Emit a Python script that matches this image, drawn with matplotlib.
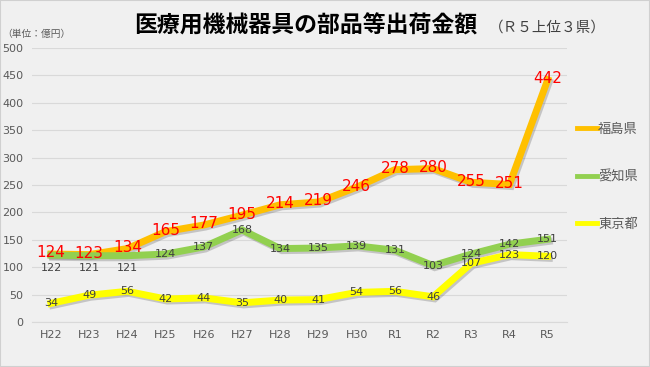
import matplotlib
matplotlib.use("Agg")
import matplotlib.pyplot as plt
import matplotlib.patheffects as pe

plt.rcParams['font.family'] = ['Noto Sans CJK JP', 'DejaVu Sans']

years = ["H22", "H23", "H24", "H25", "H26", "H27", "H28", "H29", "H30",
         "R1", "R2", "R3", "R4", "R5"]
fukushima = [124, 123, 134, 165, 177, 195, 214, 219, 246, 278, 280, 255, 251, 442]
aichi = [122, 121, 121, 124, 137, 168, 134, 135, 139, 131, 103, 124, 142, 151]
tokyo = [34, 49, 56, 42, 44, 35, 40, 41, 54, 56, 46, 107, 123, 120]
names = ["福島県", "愛知県", "東京都"]
colors = ["#ffc000", "#92d050", "#ffff00"]

bg = "#f0f0f0"
fig = plt.figure(figsize=(6.5, 3.67), dpi=100, facecolor=bg)
ax = fig.add_axes([0.049, 0.1226, 0.823, 0.7466], facecolor=bg)

x = list(range(len(years)))
shadow = [pe.SimpleLineShadow(offset=(1.2, -1.5), shadow_color="#606060", alpha=0.3), pe.Normal()]
for vals, c, n in zip([fukushima, aichi, tokyo], colors, names):
    ax.plot(x, vals, color=c, lw=5, solid_joinstyle="miter", label=n,
            path_effects=shadow, zorder=3)

for i, v in enumerate(fukushima):
    ax.text(i, v + 2, str(v), color="red", fontsize=11, ha="center", va="center",
            family=["DejaVu Sans"], zorder=5)
for i, v in enumerate(aichi):
    # labels pushed under the line where the two series overlap
    y = v - 23 if abs(fukushima[i] - v) < 15 else v
    ax.text(i, y, str(v), color="#404040", fontsize=8, ha="center", va="center",
            family=["DejaVu Sans"], zorder=5)
for i, v in enumerate(tokyo):
    ax.text(i, v, str(v), color="#404040", fontsize=8, ha="center", va="center",
            family=["DejaVu Sans"], zorder=5)

ax.set_xlim(-0.5, len(years) - 0.5)
ax.set_ylim(0, 500)
ax.set_yticks(range(0, 501, 50))
ax.set_xticks(x)
ax.set_xticklabels(years)
ax.tick_params(axis="both", length=0, colors="#595959", labelsize=8, pad=6)
for lab in ax.get_xticklabels() + ax.get_yticklabels():
    lab.set_family(["DejaVu Sans"])
ax.grid(axis="y", color="#d9d9d9", lw=0.8)
ax.set_axisbelow(True)
for s in ["top", "right", "left"]:
    ax.spines[s].set_visible(False)
ax.spines["bottom"].set_color("#d9d9d9")

leg = ax.legend(loc="upper left", bbox_to_anchor=(0.997, 0.77), frameon=False,
                fontsize=9.5, handlelength=1.5, labelspacing=2.6, handletextpad=0.1,
                labelcolor="#595959")
for h in leg.get_lines():
    h.set_linewidth(3.5)
    h.set_path_effects([])

fig.text(0.003, 0.907, "（単位：億円）", fontsize=7, color="#595959", va="center")
fig.text(0.206, 0.928, "医療用機械器具の部品等出荷金額", fontsize=16.5, fontweight="bold",
         va="center", color="black")
fig.text(0.752, 0.926, "（Ｒ５上位３県）", fontsize=10.5, va="center", color="#404040")

fig.patches.append(plt.Rectangle((0, 0), 1, 1, transform=fig.transFigure, fill=False,
                                 edgecolor="#d0d0d0", lw=1.5))
fig.savefig("out.png", dpi=100, facecolor=bg)
